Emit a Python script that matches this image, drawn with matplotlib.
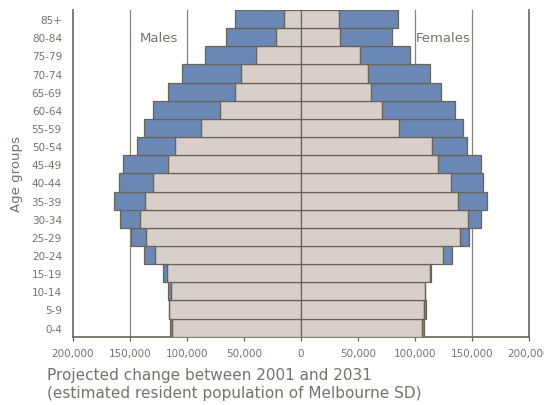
import matplotlib
matplotlib.use("Agg")
import matplotlib.pyplot as plt
import numpy as np

# Age groups, bottom to top
AGE_GROUPS = ["0-4", "5-9", "10-14", "15-19", "20-24", "25-29", "30-34",
              "35-39", "40-44", "45-49", "50-54", "55-59", "60-64",
              "65-69", "70-74", "75-79", "80-84", "85+"]

# Estimated resident population, thousands
MALE_2001 = [113.1, 116.1, 114.0, 117.2, 127.9, 135.8, 141.4, 136.6, 129.4,
             116.9, 110.5, 87.8, 70.7, 57.9, 52.4, 39.3, 21.8, 14.8]
MALE_2031 = [114.6, 116.1, 116.9, 120.7, 137.3, 149.2, 158.5, 164.0, 160.0,
             156.5, 144.2, 137.9, 130.0, 116.9, 104.1, 84.6, 65.4, 57.6]
FEMALE_2001 = [106.2, 109.9, 108.8, 113.4, 124.8, 139.1, 146.1, 137.9, 131.8,
               119.9, 114.7, 86.4, 70.7, 61.1, 59.1, 51.8, 34.6, 33.2]
FEMALE_2031 = [108.2, 108.2, 108.9, 113.6, 132.6, 147.5, 158.3, 163.2, 159.7,
               158.3, 145.2, 142.0, 135.0, 122.5, 112.9, 95.5, 79.8, 85.5]

XTICKS = [-200000, -150000, -100000, -50000, 0, 50000, 100000, 150000, 200000]
XTICK_LABELS = ["200,000", "150,000", "100,000", "50,000", "0",
                "50,000", "100,000", "150,000", "200,000"]

GREY = "#d8cfcb"
BLUE = "#6a88b5"
RED = "#d9624a"
EDGE = "#6b6356"
GRID = "#8c8479"
TEXT = "#7a7168"


def draw_side(ax, y, v2001, v2031, sign):
    a = np.array(v2001) * 1000
    b = np.array(v2031) * 1000
    base = np.minimum(a, b)
    up = np.where(b > a, b - a, 0)
    down = np.where(a > b, a - b, 0)
    kw = dict(height=1.0, edgecolor=EDGE, linewidth=0.9, zorder=3)
    ax.barh(y, sign * base, color=GREY, **kw)
    ax.barh(y, sign * up, left=sign * base, color=BLUE, **kw)
    mask = down > 0
    ax.barh(y[mask], sign * down[mask], left=sign * base[mask], color=RED, **kw)


fig = plt.figure(figsize=(5.44, 4.06), dpi=100)
ax = fig.add_axes([73 / 544, 1 - 337.7 / 406, (529 - 73) / 544, (337.7 - 11) / 406])

y = np.arange(len(AGE_GROUPS))
draw_side(ax, y, MALE_2001, MALE_2031, -1)
draw_side(ax, y, FEMALE_2001, FEMALE_2031, 1)

ax.set_xlim(-200000, 200000)
ax.set_ylim(-0.5, len(AGE_GROUPS) - 0.5)
for gx in XTICKS[1:-1]:
    ax.axvline(gx, color=GRID, lw=0.9, zorder=1)

ax.set_xticks(XTICKS)
ax.set_xticklabels(XTICK_LABELS)
ax.set_yticks(y)
ax.set_yticklabels(AGE_GROUPS)
ax.tick_params(axis="x", length=3, width=0.9, color=EDGE, labelsize=7.5,
               labelcolor=TEXT, pad=5)
ax.tick_params(axis="y", length=0, labelsize=7.5, labelcolor=TEXT, pad=8)

for side in ("left", "bottom", "right"):
    ax.spines[side].set_color(EDGE)
    ax.spines[side].set_linewidth(1.2)
ax.spines["top"].set_visible(False)

ax.set_ylabel("Age groups", color=TEXT, fontsize=9.5, labelpad=6)

ax.text(-125000, 16.0, "Males", color=TEXT, fontsize=9.5, ha="center", va="center", zorder=4)
ax.text(125000, 16.0, "Females", color=TEXT, fontsize=9.5, ha="center", va="center", zorder=4)

fig.text(47 / 544, 1 - 368 / 406,
         "Projected change between 2001 and 2031\n(estimated resident population of Melbourne SD)",
         color=TEXT, fontsize=11, ha="left", va="top", linespacing=1.25)

fig.savefig("out.png", dpi=100, facecolor="white")
